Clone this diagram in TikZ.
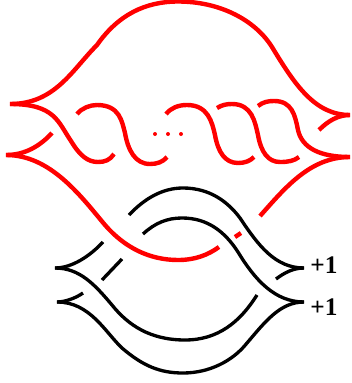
\documentclass[tikz,border=0pt]{standalone}
\usepackage{fontspec}
\setmainfont{Liberation Serif}
\tikzset{
  redline/.style={draw=red,line width=3.3pt,line cap=butt},
  blackline/.style={draw=black,line width=2.5pt,line cap=butt},
  lab/.style={font=\bfseries\fontsize{19}{19}\selectfont,inner sep=0pt,anchor=center}
}
\begin{document}
\begin{tikzpicture}[x=0.75pt,y=-0.75pt]
\useasboundingbox (0,0) rectangle (351,383);
% red strands
\draw[redline] (10,104) .. controls (55,104) and (72,70) .. (97,45) .. controls (118,15) and (145,1.5) .. (178,1.5) .. controls (220,1.5) and (255,20) .. (272,47) .. controls (295,85) and (315,115) .. (350,115);
\draw[redline] (10,104) .. controls (55,104) and (58,122) .. (71,141) .. controls (80,156) and (88,162) .. (98,162) .. controls (105,162) and (110,160) .. (114,154);
\draw[redline] (6,155) .. controls (25,155) and (40,146) .. (52,133);
\draw[redline] (6,155) .. controls (50,155) and (80,195) .. (105,225) .. controls (125,248) and (150,260) .. (178,260) .. controls (195,260) and (208,255) .. (219,247);
\draw[redline] (235,237) -- (241,233);
\draw[redline] (260,216) .. controls (285,188) and (310,157) .. (350,157);
\draw[redline] (77,114) .. controls (82,108) and (90,105) .. (97,105) .. controls (120,105) and (122,122) .. (125,133) .. controls (128,150) and (135,164) .. (150,164) .. controls (157,164) and (163,162) .. (167,157);
\draw[redline] (166,114) .. controls (171,108) and (178,105) .. (187,105) .. controls (208,105) and (212,122) .. (215,135) .. controls (218,152) and (225,163) .. (238,163) .. controls (245,163) and (250,161) .. (254,157);
\draw[redline] (217,108) .. controls (222,105) and (226,104) .. (232,104) .. controls (252,104) and (255,122) .. (258,135) .. controls (261,152) and (268,162) .. (280,162) .. controls (288,162) and (294,161) .. (299,157);
\draw[redline] (258,106) .. controls (263,102) and (268,101) .. (274,101) .. controls (292,101) and (295,115) .. (298,130) .. controls (302,148) and (320,157) .. (350,157);
\draw[redline] (319,130) .. controls (328,121) and (338,115) .. (350,115);
\fill[red] (155,134) circle (1.5pt) (168,134) circle (1.5pt) (181,134) circle (1.5pt);
% black strands
\draw[blackline] (129,215) .. controls (145,198) and (163,188) .. (183,188) .. controls (210,188) and (228,202) .. (240,218) .. controls (258,245) and (275,268) .. (304,268);
\draw[blackline] (143,234) .. controls (155,223) and (167,218) .. (182,218) .. controls (208,218) and (225,232) .. (238,252) .. controls (255,280) and (275,302) .. (304,302);
\draw[blackline] (276,279) .. controls (284,273) and (293,268) .. (304,268);
\draw[blackline] (257,295) .. controls (240,322) and (218,340) .. (185,340) .. controls (150,340) and (128,325) .. (112,305) .. controls (95,285) and (80,268) .. (55,268);
\draw[blackline] (304,302) .. controls (280,302) and (265,322) .. (247,343) .. controls (232,362) and (208,373) .. (183,373) .. controls (160,373) and (143,366) .. (122,348) .. controls (105,332) and (90,302) .. (57,302);
\draw[blackline] (55,268) .. controls (72,268) and (90,256) .. (103,242);
\draw[blackline] (102,280) -- (122,259);
\draw[blackline] (57,302) .. controls (65,302) and (76,298) .. (83,293);
\node[lab] (p1) at (324,265) {+1};
\node[lab] (p2) at (324,307) {+1};
\end{tikzpicture}
\end{document}
